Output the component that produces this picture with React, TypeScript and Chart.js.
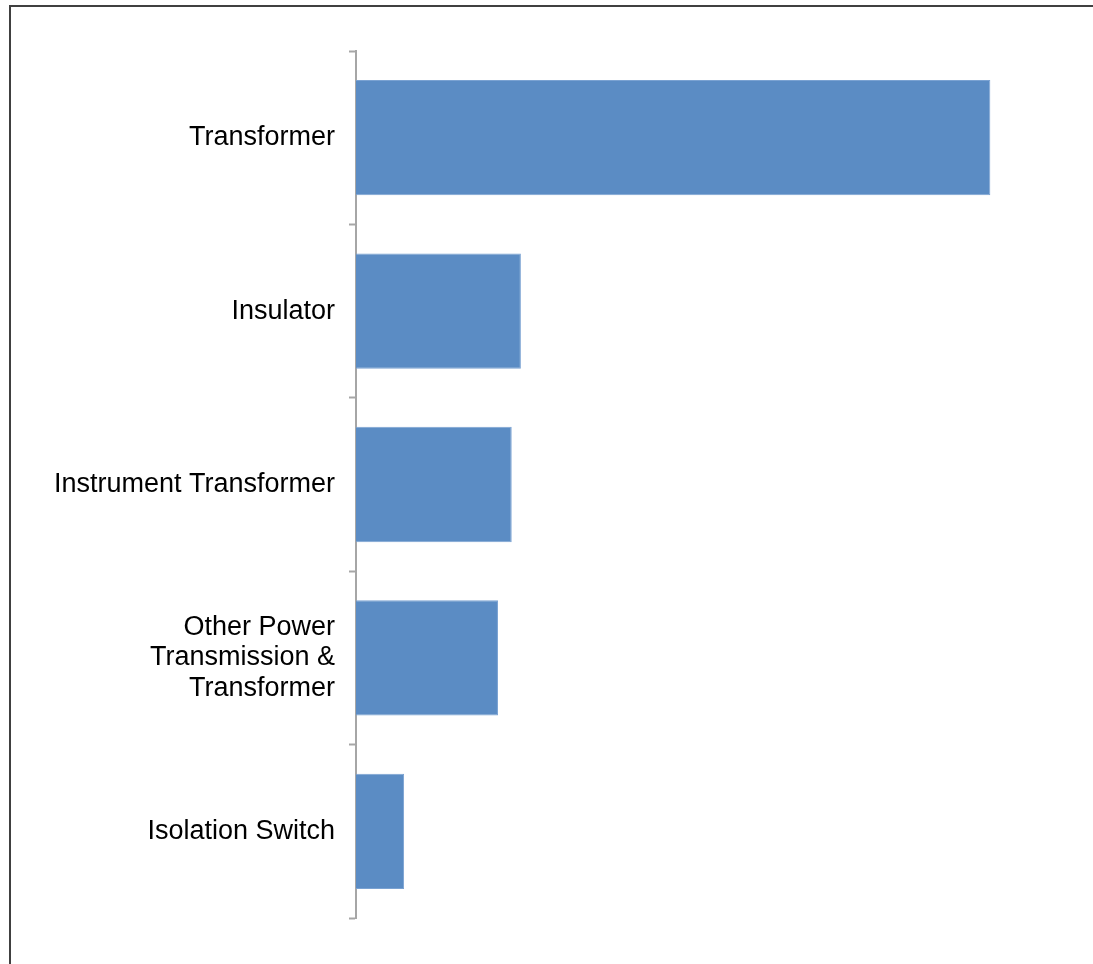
import React, { useEffect, useRef } from "react";
import { Chart, registerables } from "chart.js";

Chart.register(...registerables);

const categories: (string | string[])[] = [
  "Transformer",
  "Insulator",
  "Instrument Transformer",
  ["Other Power", "Transmission &", "Transformer"],
  "Isolation Switch",
];
const shares: number[] = [55.4, 14.4, 13.6, 12.4, 4.2];
const xMax = 60;

export default function App() {
  const ref = useRef<HTMLCanvasElement | null>(null);
  useEffect(() => {
    if (!ref.current) return;
    const chart = new Chart(ref.current, {
      type: "bar",
      data: {
        labels: categories,
        datasets: [
          {
            data: shares,
            backgroundColor: "#5b8cc4",
            borderColor: "#7aa2d2",
            borderWidth: 1,
            borderSkipped: "left",
            categoryPercentage: 1,
            barPercentage: 0.665,
          },
        ],
      },
      options: {
        indexAxis: "y",
        animation: false,
        responsive: false,
        layout: { padding: { top: 51, bottom: 46, right: 50, left: 0 } },
        plugins: { legend: { display: false }, tooltip: { enabled: false } },
        scales: {
          x: { display: false, min: 0, max: xMax },
          y: {
            afterFit: (scale: any) => {
              scale.width = 356;
            },
            grid: {
              drawOnChartArea: false,
              drawTicks: true,
              tickLength: 7,
              tickWidth: 2,
              color: "#a6a6a6",
              offset: true,
            },
            border: { display: true, color: "#a6a6a6", width: 2 },
            ticks: {
              color: "#000000",
              padding: 14,
              font: { family: "'Liberation Sans', Arial, sans-serif", size: 27, lineHeight: 1.13 },
            },
          },
        },
      },
    });
    return () => chart.destroy();
  }, []);
  return (
    <div style={{ position: "fixed", left: 0, top: 0, width: 1093, height: 964, background: "#fff", overflow: "hidden" }}>
      <canvas ref={ref} width={1093} height={964} style={{ position: "absolute", left: 0, top: 0 }} />
      <div
        style={{
          position: "absolute",
          left: 9,
          top: 5,
          width: 1200,
          height: 1100,
          border: "2px solid #404040",
          boxSizing: "border-box",
          pointerEvents: "none",
        }}
      />
    </div>
  );
}
